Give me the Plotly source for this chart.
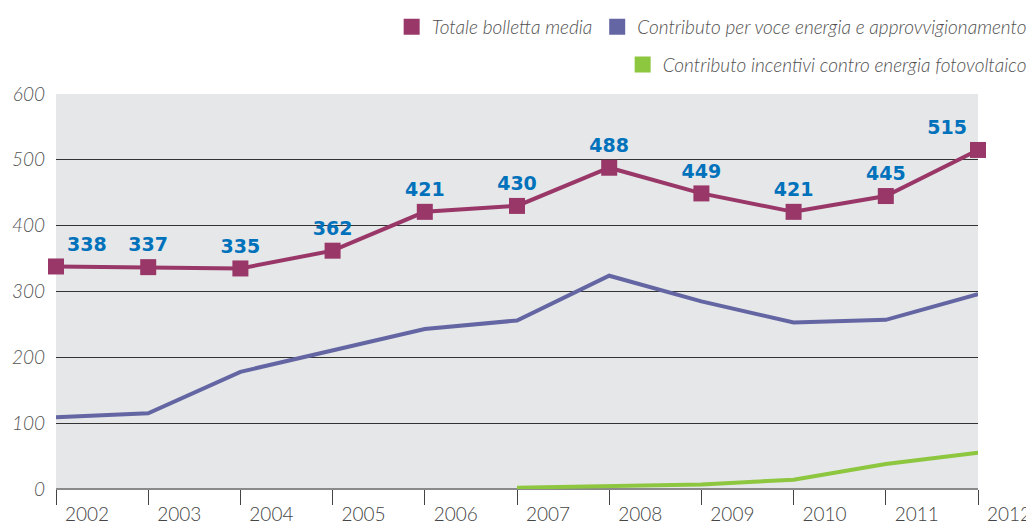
import plotly.graph_objects as go

years = [2002, 2003, 2004, 2005, 2006, 2007, 2008, 2009, 2010, 2011, 2012]
totale = [338, 337, 335, 362, 421, 430, 488, 449, 421, 445, 515]
energia = [109, 115, 178, 211, 243, 256, 324, 285, 253, 257, 296]
foto_years = [2007, 2008, 2009, 2010, 2011, 2012]
fotovoltaico = [2, 4, 7, 14, 38, 55]
y_ticks = [0, 100, 200, 300, 400, 500, 600]

names = ["Totale bolletta media",
         "Contributo per voce energia e approvvigionamento",
         "Contributo incentivi contro energia fotovoltaico"]
c_tot = "#993768"
c_en = "#6466A3"
c_fv = "#8DC63F"
c_lab = "#0072BC"

positions = ["top right"] + ["top center"] * (len(years) - 2) + ["top left"]

fig = go.Figure()
fig.add_trace(go.Scatter(x=foto_years, y=fotovoltaico, mode="lines",
                         line=dict(color=c_fv, width=4), showlegend=False,
                         cliponaxis=False))
fig.add_trace(go.Scatter(x=years, y=energia, mode="lines",
                         line=dict(color=c_en, width=4), showlegend=False,
                         cliponaxis=False))
fig.add_trace(go.Scatter(x=years, y=totale, mode="lines+markers+text",
                         line=dict(color=c_tot, width=4),
                         marker=dict(symbol="square", size=16, color=c_tot),
                         text=[str(v) for v in totale], textposition=positions,
                         textfont=dict(family="DejaVu Sans", size=19, color=c_lab, weight="bold"),
                         showlegend=False, cliponaxis=False))

# legend-only entries (square swatches)
fig.add_trace(go.Scatter(x=[None], y=[None], mode="markers", name=names[0],
                         marker=dict(symbol="square", size=20, color=c_tot), legend="legend"))
fig.add_trace(go.Scatter(x=[None], y=[None], mode="markers", name=names[1],
                         marker=dict(symbol="square", size=20, color=c_en), legend="legend"))
fig.add_trace(go.Scatter(x=[None], y=[None], mode="markers", name=names[2],
                         marker=dict(symbol="square", size=20, color=c_fv), legend="legend2"))

legend_font = dict(family="Lato", size=19, color="#505050", style="italic", weight=300)
fig.update_layout(
    width=1034, height=523,
    margin=dict(l=48, r=64, t=86, b=42, autoexpand=False),
    paper_bgcolor="white",
    plot_bgcolor="#E6E7E8",
    font=dict(family="Lato", color="#444444"),
    legend=dict(orientation="h", xref="container", yref="container",
                x=0.99, xanchor="right", y=1.0, yanchor="top",
                font=legend_font, itemsizing="trace", tracegroupgap=0,
                bgcolor="rgba(0,0,0,0)"),
    legend2=dict(orientation="h", xref="container", yref="container",
                 x=0.99, xanchor="right", y=0.928, yanchor="top",
                 font=legend_font, itemsizing="trace",
                 bgcolor="rgba(0,0,0,0)"),
    xaxis=dict(range=[2002, 2012], tickmode="array", tickvals=years,
               ticktext=[str(y) for y in years], automargin=False,
               ticks="outside", ticklen=15, tickwidth=1, tickcolor="#444444",
               tickfont=dict(family="Lato", size=19, color="#444444", weight=300),
               ticklabelshift=31, ticklabelstandoff=-7,
               showgrid=False, zeroline=False, showline=False),
    yaxis=dict(range=[0, 600], tickvals=y_ticks, automargin=False,
               tickfont=dict(family="Lato", size=19, color="#555555", style="italic", weight=300),
               showgrid=True, gridcolor="#333333", gridwidth=1,
               zeroline=True, zerolinecolor="#8A8A8A", zerolinewidth=2,
               ticks="", ticklabelstandoff=10),
)

fig.write_html("out.html")
